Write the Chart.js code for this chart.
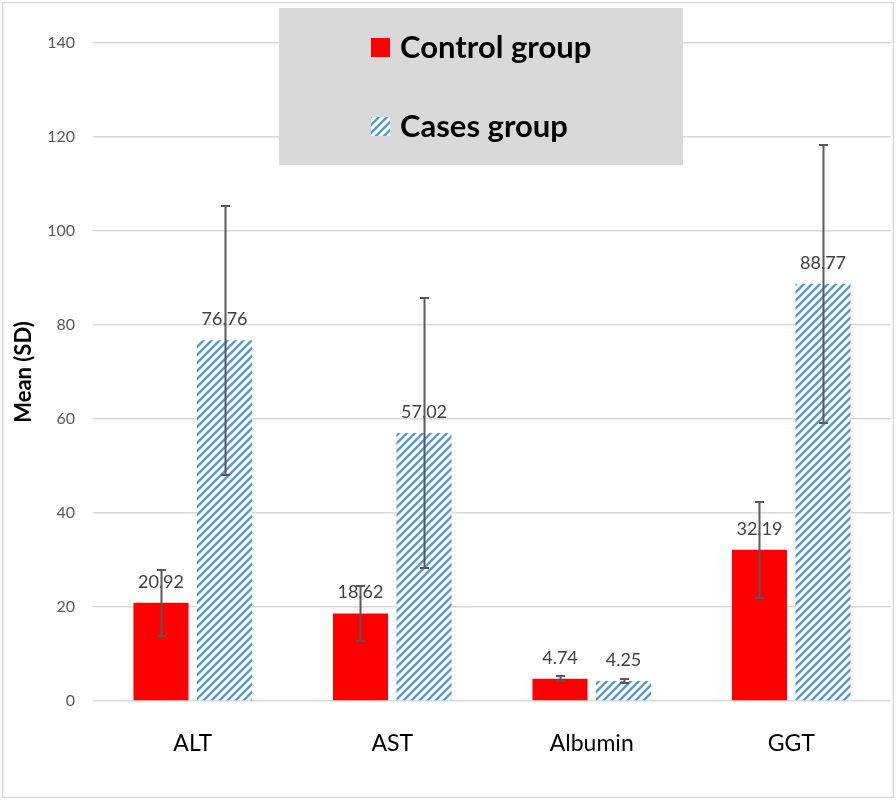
<!DOCTYPE html>
<html>
<head>
<meta charset="utf-8">
<title>Mean (SD)</title>
<script src="https://cdn.jsdelivr.net/npm/chart.js@4.4.0/dist/chart.umd.min.js"></script>
<style>
  body { margin: 0; background: #fff; }
  #wrap { width: 896px; height: 800px; }
</style>
</head>
<body>
<div id="wrap"><canvas id="myChart" width="896" height="800"></canvas></div>
<script>
'use strict';

let categories = ['ALT', 'AST', 'Albumin', 'GGT'];
let controlMean = [20.92, 18.62, 4.74, 32.19];
let controlSD = [7.0, 5.8, 0.5, 10.2];
let casesMean = [76.76, 57.02, 4.25, 88.77];
let casesSD = [28.6, 28.8, 0.5, 29.6];
let yMin = 0;
let yMax = 140;
let yStep = 20;

let fontName = 'Lato, "Open Sans", sans-serif';

// hatched fill for the cases group
function makeStripes() {
  let tile = document.createElement('canvas');
  tile.width = 8;
  tile.height = 8;
  let c = tile.getContext('2d');
  c.fillStyle = '#ffffff';
  c.fillRect(0, 0, 8, 8);
  c.strokeStyle = '#5b9bd5';
  c.lineWidth = 2.6;
  c.beginPath();
  c.moveTo(-2, 10); c.lineTo(10, -2);
  c.moveTo(-2, 2); c.lineTo(2, -2);
  c.moveTo(6, 10); c.lineTo(10, 6);
  c.stroke();
  return c.createPattern(tile, 'repeat');
}
let stripes = makeStripes();

let errorBars = {
  id: 'errorBars',
  afterDatasetsDraw(chart) {
    let ctx = chart.ctx;
    let y = chart.scales.y;
    let sds = [controlSD, casesSD];
    ctx.save();
    // value labels first, the error bars go over them
    ctx.font = '18px ' + fontName;
    ctx.fillStyle = '#404040';
    ctx.textAlign = 'center';
    ctx.textBaseline = 'alphabetic';
    chart.data.datasets.forEach(function (ds, d) {
      chart.getDatasetMeta(d).data.forEach(function (bar, i) {
        ctx.fillText(ds.data[i].toFixed(2), bar.x, bar.y - 15);
      });
    });
    ctx.strokeStyle = '#595959';
    ctx.lineWidth = 2;
    chart.data.datasets.forEach(function (ds, d) {
      chart.getDatasetMeta(d).data.forEach(function (bar, i) {
        let top = Math.round(y.getPixelForValue(ds.data[i] + sds[d][i]));
        let bottom = Math.round(y.getPixelForValue(ds.data[i] - sds[d][i]));
        let x = Math.round(bar.x) + 0.5;
        ctx.beginPath();
        ctx.moveTo(x, top);
        ctx.lineTo(x, bottom);
        ctx.moveTo(x - 4.5, top);
        ctx.lineTo(x + 4.5, top);
        ctx.moveTo(x - 4.5, bottom);
        ctx.lineTo(x + 4.5, bottom);
        ctx.stroke();
      });
    });
    ctx.restore();
  }
};

let legendBox = {
  id: 'legendBox',
  afterDraw(chart) {
    let ctx = chart.ctx;
    ctx.save();
    ctx.fillStyle = '#d9d9d9';
    ctx.fillRect(279, 8, 404, 157);
    ctx.font = 'bold 31px ' + fontName;
    ctx.textAlign = 'left';
    ctx.textBaseline = 'middle';
    let rows = [38, 117];
    chart.data.datasets.forEach(function (ds, d) {
      ctx.fillStyle = ds.backgroundColor;
      ctx.fillRect(371, rows[d], 19, 19);
      ctx.fillStyle = '#000000';
      ctx.fillText(ds.label, 400, rows[d] + 10);
    });
    // outer frame
    ctx.strokeStyle = '#d9d9d9';
    ctx.lineWidth = 1.5;
    ctx.strokeRect(2.5, 2.5, 891, 795);
    ctx.restore();
  }
};

let ctx = document.getElementById('myChart').getContext('2d');
let chart = new Chart(ctx, {
  type: 'bar',
  data: {
    labels: categories,
    datasets: [{
      label: 'Control group',
      data: controlMean,
      backgroundColor: '#ff0000',
      categoryPercentage: 0.637,
      barPercentage: 0.866
    }, {
      label: 'Cases group',
      data: casesMean,
      backgroundColor: stripes,
      categoryPercentage: 0.637,
      barPercentage: 0.866
    }]
  },
  options: {
    responsive: false,
    animation: false,
    devicePixelRatio: 1,
    layout: { padding: { top: 43, right: 5, left: 0, bottom: 0 } },
    plugins: {
      legend: { display: false },
      tooltip: { enabled: false }
    },
    scales: {
      x: {
        grid: { display: false },
        border: { display: false },
        ticks: {
          color: '#000000',
          font: { family: fontName, size: 23 },
          padding: 21
        },
        afterFit(scale) { scale.height = 99; }
      },
      y: {
        min: yMin,
        max: yMax,
        grid: { color: '#d9d9d9', lineWidth: 1.5, drawTicks: false },
        border: { display: false },
        ticks: {
          stepSize: yStep,
          color: '#595959',
          font: { family: fontName, size: 16 },
          padding: 18
        },
        title: {
          display: true,
          text: 'Mean (SD)',
          color: '#000000',
          font: { family: fontName, size: 22, weight: 'bold' },
          padding: { top: 11, bottom: 4 }
        },
        afterFit(scale) { scale.width = 93; }
      }
    }
  },
  plugins: [errorBars, legendBox]
});
</script>
</body>
</html>
